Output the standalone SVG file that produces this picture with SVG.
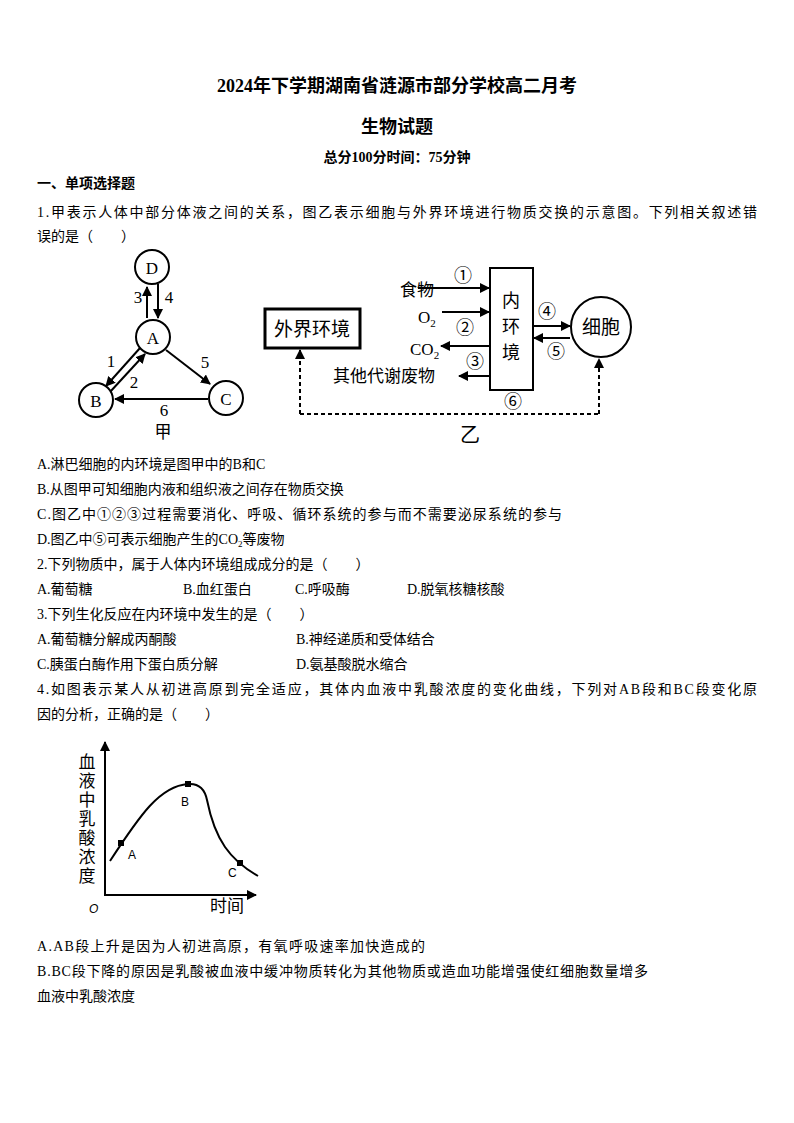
<svg xmlns="http://www.w3.org/2000/svg" width="794" height="1123" viewBox="0 0 794 1123">
<style>
text{font-family:"Liberation Serif","Noto Sans CJK SC",serif;fill:#000}
.b{font-size:14px}
.t{font-weight:bold}
.d{font-size:17px}
.ln{stroke:#000;stroke-width:2;fill:none}
.c{stroke:#000;stroke-width:2;fill:#fff}
</style>
<defs>
<marker id="ah" viewBox="0 0 10 10" refX="9" refY="5" markerWidth="5" markerHeight="5" orient="auto"><path d="M0,0L10,5L0,10z" fill="#000"/></marker>
</defs>
<rect width="794" height="1123" fill="#fff"/>
<text x="397" y="92" text-anchor="middle" class="t" font-size="18">2024年下学期湖南省涟源市部分学校高二月考</text>
<text x="397" y="133" text-anchor="middle" class="t" font-size="18">生物试题</text>
<text x="397" y="162" text-anchor="middle" class="t" font-size="14">总分100分时间：75分钟</text>
<text x="37" y="188" class="t b">一、单项选择题</text>
<text x="37" y="217" class="b" textLength="720">1.甲表示人体中部分体液之间的关系，图乙表示细胞与外界环境进行物质交换的示意图。下列相关叙述错</text>
<text x="37" y="241" class="b">误的是（　　）</text>

<g id="connectors">
<line class="ln" x1="147" y1="318" x2="147" y2="287" marker-end="url(#ah)"/>
<line class="ln" x1="158" y1="284" x2="158" y2="318" marker-end="url(#ah)"/>
<line class="ln" x1="140" y1="348" x2="106" y2="386" marker-end="url(#ah)"/>
<line class="ln" x1="110" y1="392" x2="145" y2="354" marker-end="url(#ah)"/>
<line class="ln" x1="166" y1="350" x2="210" y2="384" marker-end="url(#ah)"/>
<line class="ln" x1="208" y1="399" x2="115" y2="399" marker-end="url(#ah)"/>
<line class="ln" x1="418" y1="288" x2="489" y2="288" marker-end="url(#ah)"/>
<line class="ln" x1="442" y1="312" x2="489" y2="312" marker-end="url(#ah)"/>
<line class="ln" x1="490" y1="346" x2="441" y2="346" marker-end="url(#ah)"/>
<line class="ln" x1="490" y1="376" x2="459" y2="376" marker-end="url(#ah)"/>
<line class="ln" x1="533" y1="326" x2="570" y2="326" marker-end="url(#ah)"/>
<line class="ln" x1="570" y1="338" x2="534" y2="338" marker-end="url(#ah)"/>
<path class="ln" d="M300,414H599" stroke-dasharray="4,3"/>
<line class="ln" x1="300" y1="414" x2="300" y2="350" stroke-dasharray="4,3" marker-end="url(#ah)"/>
<line class="ln" x1="599" y1="414" x2="599" y2="359" stroke-dasharray="4,3" marker-end="url(#ah)"/>
</g>
<g id="D"><circle class="c" cx="152" cy="267" r="17"/><text x="152" y="274" text-anchor="middle" class="d">D</text></g>
<g id="A"><circle class="c" cx="153" cy="337" r="17"/><text x="153" y="344" text-anchor="middle" class="d">A</text></g>
<g id="B"><circle class="c" cx="96" cy="400" r="17"/><text x="96" y="407" text-anchor="middle" class="d">B</text></g>
<g id="C"><circle class="c" cx="226" cy="398" r="17"/><text x="226" y="405" text-anchor="middle" class="d">C</text></g>
<g id="labels甲">
<text x="138" y="303" class="d" text-anchor="middle">3</text>
<text x="169" y="303" class="d" text-anchor="middle">4</text>
<text x="111" y="367" class="d" text-anchor="middle">1</text>
<text x="134" y="388" class="d" text-anchor="middle">2</text>
<text x="205" y="368" class="d" text-anchor="middle">5</text>
<text x="164" y="416" class="d" text-anchor="middle">6</text>
<text x="163" y="438" class="d" text-anchor="middle">甲</text>
</g>
<g id="outer"><rect x="265" y="309" width="95" height="39" fill="#fff" stroke="#000" stroke-width="3"/><text x="312" y="336" text-anchor="middle" font-size="19">外界环境</text></g>
<g id="inner"><rect x="490" y="268" width="43" height="122" fill="#fff" stroke="#000" stroke-width="2"/><text x="511" y="307" text-anchor="middle" font-size="18">内</text><text x="511" y="333" text-anchor="middle" font-size="18">环</text><text x="511" y="359" text-anchor="middle" font-size="18">境</text></g>
<g id="cell"><circle class="c" cx="601" cy="327" r="30"/><text x="601" y="334" text-anchor="middle" font-size="19">细胞</text></g>
<g id="labels乙">
<text x="400" y="296" font-size="17">食物</text>
<text x="418" y="323" font-size="17">O<tspan font-size="11" dy="4">2</tspan></text>
<text x="410" y="355" font-size="17">CO<tspan font-size="11" dy="4">2</tspan></text>
<text x="333" y="382" font-size="17">其他代谢废物</text>
<text x="463" y="282" text-anchor="middle" font-size="18">①</text>
<text x="465" y="334" text-anchor="middle" font-size="18">②</text>
<text x="475" y="368" text-anchor="middle" font-size="18">③</text>
<text x="547" y="318" text-anchor="middle" font-size="18">④</text>
<text x="556" y="358" text-anchor="middle" font-size="18">⑤</text>
<text x="513" y="408" text-anchor="middle" font-size="18">⑥</text>
<text x="470" y="442" text-anchor="middle" font-size="20">乙</text>
</g>

<text x="37" y="469" class="b">A.淋巴细胞的内环境是图甲中的B和C</text>
<text x="37" y="494" class="b">B.从图甲可知细胞内液和组织液之间存在物质交换</text>
<text x="37" y="519" class="b" textLength="525">C.图乙中①②③过程需要消化、呼吸、循环系统的参与而不需要泌尿系统的参与</text>
<text x="37" y="544" class="b">D.图乙中⑤可表示细胞产生的CO<tspan font-size="9" dy="3">2</tspan><tspan dy="-3">等废物</tspan></text>
<text x="37" y="569" class="b">2.下列物质中，属于人体内环境组成成分的是（　　）</text>
<text x="37" y="594" class="b">A.葡萄糖</text>
<text x="183" y="594" class="b">B.血红蛋白</text>
<text x="295" y="594" class="b">C.呼吸酶</text>
<text x="407" y="594" class="b">D.脱氧核糖核酸</text>
<text x="37" y="619" class="b">3.下列生化反应在内环境中发生的是（　　）</text>
<text x="37" y="644" class="b">A.葡萄糖分解成丙酮酸</text>
<text x="296" y="644" class="b">B.神经递质和受体结合</text>
<text x="37" y="669" class="b">C.胰蛋白酶作用下蛋白质分解</text>
<text x="296" y="669" class="b">D.氨基酸脱水缩合</text>
<text x="37" y="694" class="b" textLength="720">4.如图表示某人从初进高原到完全适应，其体内血液中乳酸浓度的变化曲线，下列对AB段和BC段变化原</text>
<text x="37" y="719" class="b">因的分析，正确的是（　　）</text>

<g id="graph">
<line class="ln" x1="105" y1="895" x2="105" y2="742" marker-end="url(#ah)" stroke-width="1.5"/>
<line class="ln" x1="104" y1="895" x2="256" y2="895" marker-end="url(#ah)" stroke-width="1.5"/>
<path class="ln" d="M110,861 C140,815 160,786 188,784 C200,783 205,790 207,800 C215,840 230,860 258,876" stroke-width="1.5"/>
<rect x="118" y="840" width="6" height="6"/><rect x="185" y="781" width="6" height="6"/><rect x="237" y="860" width="6" height="6"/>
<g font-size="12"><text x="128" y="859" style="font-family:'Liberation Sans',sans-serif">A</text><text x="181" y="806" style="font-family:'Liberation Sans',sans-serif">B</text><text x="228" y="877" style="font-family:'Liberation Sans',sans-serif">C</text><text x="89" y="913" style="font-family:'Liberation Sans',sans-serif;font-style:italic">O</text></g>
<text x="210" y="912" font-size="17">时间</text>
<g font-size="17" text-anchor="middle"><text x="87" y="768">血</text><text x="87" y="787">液</text><text x="87" y="806">中</text><text x="87" y="825">乳</text><text x="87" y="844">酸</text><text x="87" y="863">浓</text><text x="87" y="882">度</text></g>
</g>
<text x="37" y="951" class="b" textLength="388">A.AB段上升是因为人初进高原，有氧呼吸速率加快造成的</text>
<text x="37" y="976" class="b" textLength="611">B.BC段下降的原因是乳酸被血液中缓冲物质转化为其他物质或造血功能增强使红细胞数量增多</text>
<text x="37" y="1001" class="b">血液中乳酸浓度</text>
</svg>
